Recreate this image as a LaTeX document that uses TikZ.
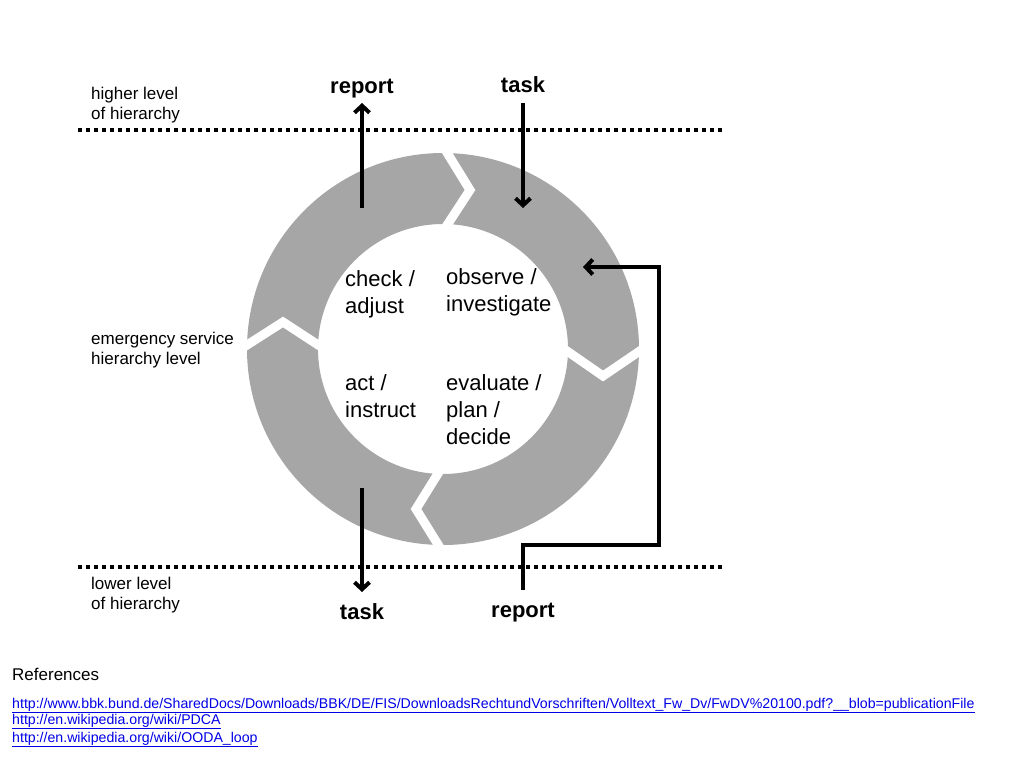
\documentclass[tikz,border=0pt]{standalone}
\usepackage{fontspec}
\setmainfont{Liberation Sans}
\usetikzlibrary{arrows.meta,calc}
\definecolor{ringgray}{RGB}{166,166,166}
\definecolor{linkblue}{RGB}{0,0,230}
\begin{document}
\begin{tikzpicture}[x=1pt,y=-1pt,
  small/.style={font=\fontsize{17}{20}\selectfont, anchor=base west, align=left, inner sep=0pt},
  stage/.style={font=\fontsize{22}{27}\selectfont, anchor=base west, align=left, inner sep=0pt},
  flowlabel/.style={font=\fontsize{22}{26}\selectfont\bfseries, anchor=base, inner sep=0pt},
  linktext/.style={font=\fontsize{14.15}{17}\selectfont, anchor=base west, inner sep=0pt, text=linkblue},
  levelline/.style={line width=4pt, dash pattern=on 4pt off 4pt},
  flow/.style={line width=4pt, -{Straight Barb[length=7pt,width=15pt,line width=4pt]}},
  gap/.style={white, line width=9pt, line join=miter}
]
\useasboundingbox (0,0) rectangle (1024,768);

% ring
\coordinate (C) at (443,349);
\fill[ringgray, even odd rule] (C) circle (196) (C) circle (125);

% gaps (chevrons)
\coordinate (gTo) at (438,138); \coordinate (gTt) at (470,190); \coordinate (gTi) at (438,239);
\coordinate (gRo) at (653,342); \coordinate (gRt) at (603,376); \coordinate (gRi) at (554,342);
\coordinate (gBi) at (447,459); \coordinate (gBt) at (416,509); \coordinate (gBo) at (447,559);
\coordinate (gLo) at (233,354); \coordinate (gLt) at (283,322); \coordinate (gLi) at (332,354);
\draw[gap] (gTo) -- (gTt) -- (gTi);
\draw[gap] (gRo) -- (gRt) -- (gRi);
\draw[gap] (gBi) -- (gBt) -- (gBo);
\draw[gap] (gLo) -- (gLt) -- (gLi);

% level lines
\coordinate (hlA) at (78,130); \coordinate (hlB) at (722,130);
\coordinate (llA) at (78,567); \coordinate (llB) at (722,567);
\draw[levelline] (hlA) -- (hlB);
\draw[levelline] (llA) -- (llB);

% level labels (anchor = baseline of last line)
\node[small] (higher) at (91,119) {higher level\\of hierarchy};
\node[small] (emerg) at (91,364) {emergency service\\hierarchy level};
\node[small] (lower) at (91,609) {lower level\\of hierarchy};

% stage labels
\node[stage] (check) at (345,313) {check /\\adjust};
\node[stage] (observe) at (446,311) {observe /\\investigate};
\node[stage] (act) at (345,417) {act /\\instruct};
\node[stage] (evaluate) at (446,444) {evaluate /\\plan /\\decide};

% flow labels
\node[flowlabel] (reportUp) at (362,93) {report};
\node[flowlabel] (taskIn) at (523,92) {task};
\node[flowlabel] (taskDown) at (362,619) {task};
\node[flowlabel] (reportIn) at (523,617) {report};

% flow arrows
\coordinate (rU0) at (362,208); \coordinate (rU1) at (362,103);
\coordinate (tI0) at (523,103); \coordinate (tI1) at (523,208);
\coordinate (tD0) at (362,488); \coordinate (tD1) at (362,592);
\coordinate (rI0) at (523,590); \coordinate (rI1) at (523,545);
\coordinate (rI2) at (659,545); \coordinate (rI3) at (659,267);
\coordinate (rI4) at (583,267);
\draw[flow] (rU0) -- (rU1);
\draw[flow] (tI0) -- (tI1);
\draw[flow] (tD0) -- (tD1);
\draw[flow, line join=miter] (rI0) -- (rI1) -- (rI2) -- (rI3) -- (rI4);

% references
\node[small] (refs) at (12,680) {References};
\node[linktext] (link1) at (12,708) {\underline{http://www.bbk.bund.de/SharedDocs/Downloads/BBK/DE/FIS/DownloadsRechtundVorschriften/Volltext\_Fw\_Dv/FwDV\%20100.pdf?\_\_blob=publicationFile}};
\node[linktext] (link2) at (12,724) {\underline{http://en.wikipedia.org/wiki/PDCA}};
\node[linktext] (link3) at (12,742) {\underline{http://en.wikipedia.org/wiki/OODA\_loop}};
\end{tikzpicture}
\end{document}
